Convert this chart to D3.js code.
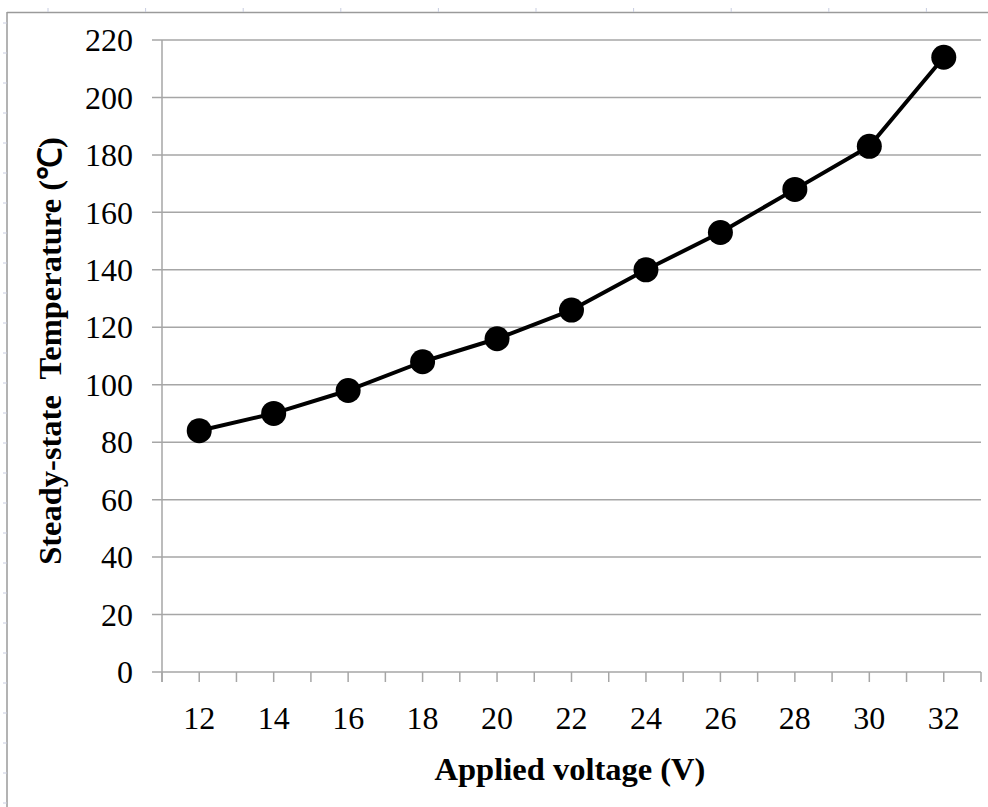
<!DOCTYPE html>
<html>
<head>
<meta charset="utf-8">
<script src="https://cdn.jsdelivr.net/npm/d3@7"></script>
<style>
  html, body { margin: 0; padding: 0; background: #fff; }
  svg { display: block; }
</style>
</head>
<body>
<svg id="chart" width="988" height="807"></svg>
<script>
const voltages = [12, 14, 16, 18, 20, 22, 24, 26, 28, 30, 32];
const temperatures = [84, 90, 98, 108, 116, 126, 140, 153, 168, 183, 214];
const yTicks = [0, 20, 40, 60, 80, 100, 120, 140, 160, 180, 200, 220];
const xMinorTicks = d3.range(11, 34, 1);
const xLabels = [12, 14, 16, 18, 20, 22, 24, 26, 28, 30, 32];
const xTitle = "Applied voltage (V)";
const yTitle = "Steady-state\u00a0 Temperature (\u2103)";

const svg = d3.select("#chart");
const W = 988, H = 807;
const m = { left: 162, right: 981, top: 40, bottom: 672 };

const x = d3.scaleLinear().domain([11, 33]).range([m.left, m.right]);
const y = d3.scaleLinear().domain([0, 220]).range([m.bottom, m.top]);

// outer frame (page border) with faint ruler ticks
const frame = svg.append("g");
frame.append("line").attr("x1", 7).attr("x2", W).attr("y1", 12.5).attr("y2", 12.5)
  .attr("stroke", "#9a9a9a").attr("stroke-width", 1.5);
frame.append("line").attr("x1", 7).attr("x2", 7).attr("y1", 12).attr("y2", H)
  .attr("stroke", "#9a9a9a").attr("stroke-width", 1.5);
const topRuler = d3.range(48, W, 97.6);
frame.selectAll(".rt").data(topRuler).enter().append("line")
  .attr("x1", d => d).attr("x2", d => d).attr("y1", 8).attr("y2", 12)
  .attr("stroke", "#c8cde0").attr("stroke-width", 1);
const leftRuler = d3.range(23, H, 30);
frame.selectAll(".rl").data(leftRuler).enter().append("line")
  .attr("x1", 3).attr("x2", 7).attr("y1", d => d).attr("y2", d => d)
  .attr("stroke", "#c8cde0").attr("stroke-width", 1);

// gridlines + y ticks
const grid = svg.append("g");
grid.selectAll("line").data(yTicks).enter().append("line")
  .attr("x1", m.left - 10).attr("x2", m.right)
  .attr("y1", d => y(d)).attr("y2", d => y(d))
  .attr("stroke", "#a6a6a6").attr("stroke-width", 1.5);

// y axis line
svg.append("line").attr("x1", m.left).attr("x2", m.left)
  .attr("y1", m.top).attr("y2", m.bottom + 10)
  .attr("stroke", "#a6a6a6").attr("stroke-width", 1.5);

// x ticks
svg.append("g").selectAll("line").data(xMinorTicks).enter().append("line")
  .attr("x1", d => x(d)).attr("x2", d => x(d))
  .attr("y1", m.bottom).attr("y2", m.bottom + 10)
  .attr("stroke", "#a6a6a6").attr("stroke-width", 1.5);

const font = "'Liberation Serif', 'Times New Roman', serif";

// y tick labels
svg.append("g").selectAll("text").data(yTicks).enter().append("text")
  .attr("x", 133).attr("y", d => y(d))
  .attr("dy", "0.35em")
  .attr("text-anchor", "end")
  .attr("font-family", font).attr("font-size", 32).attr("fill", "#000")
  .text(d => d);

// x tick labels
svg.append("g").selectAll("text").data(xLabels).enter().append("text")
  .attr("x", d => x(d)).attr("y", 729)
  .attr("text-anchor", "middle")
  .attr("font-family", font).attr("font-size", 32).attr("fill", "#000")
  .text(d => d);

// titles
svg.append("text").attr("x", 570).attr("y", 780)
  .attr("text-anchor", "middle")
  .attr("font-family", font).attr("font-size", 32.5).attr("font-weight", "bold")
  .attr("fill", "#000").text(xTitle);

svg.append("text")
  .attr("transform", "translate(61,351) rotate(-90)")
  .attr("text-anchor", "middle")
  .attr("font-family", font).attr("font-size", 32.5).attr("font-weight", "bold")
  .attr("fill", "#000").text(yTitle);

// line + markers
const pts = voltages.map((v, i) => ({ v, t: temperatures[i] }));
const lineGen = d3.line().x(d => x(d.v)).y(d => y(d.t));
svg.append("path").datum(pts)
  .attr("d", lineGen).attr("fill", "none")
  .attr("stroke", "#000").attr("stroke-width", 4).attr("stroke-linejoin", "round");
svg.append("g").selectAll("circle").data(pts).enter().append("circle")
  .attr("cx", d => x(d.v)).attr("cy", d => y(d.t)).attr("r", 12.5)
  .attr("fill", "#000");
</script>
</body>
</html>
